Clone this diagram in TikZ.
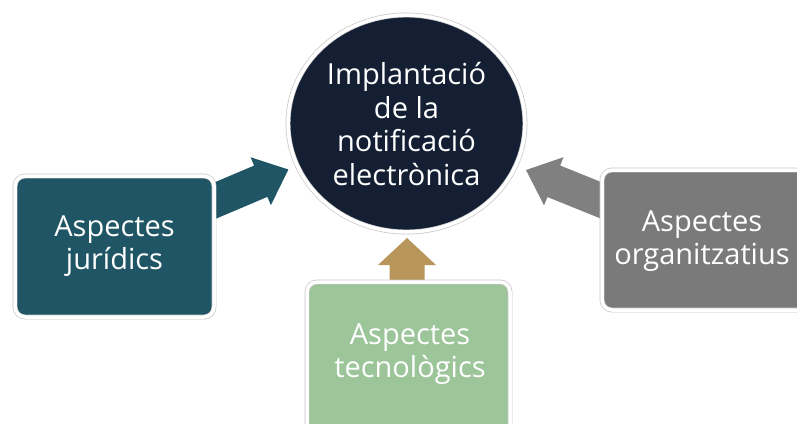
\documentclass[tikz,border=0pt]{standalone}
\usepackage{fontspec}
\setmainfont{Open Sans}
\usetikzlibrary{shadows,shapes.geometric}
\definecolor{navy}{HTML}{141F33}
\definecolor{teal}{HTML}{1F5565}
\definecolor{sage}{HTML}{9CC59A}
\definecolor{tan}{HTML}{B8955A}
\definecolor{grayb}{HTML}{7A7A7A}
\definecolor{graya}{HTML}{808080}
\tikzset{
  rim/.style={draw=black!22, line width=0.7pt, double=white, double distance=3.5pt},
  box/.style={rim, rounded corners=10pt,
    drop shadow={shadow xshift=1pt, shadow yshift=-2pt, opacity=0.2, fill=black!60}},
  lbl/.style={text=white, align=center, font=\fontsize{29}{33.5}\selectfont},
}
\begin{document}
\begin{tikzpicture}[x=1pt,y=1pt]
\useasboundingbox (0,0) rectangle (797,-423);
\clip (0,0) rectangle (797,-423);
% arrows
\begin{scope}[shift={(200,-207)}, rotate=23]
  \fill[teal] (0,-17) -- (66,-17) -- (66,-26) -- (96,0) -- (66,26) -- (66,17) -- (0,17) -- cycle;
\end{scope}
\begin{scope}[shift={(615,-206)}, rotate=158]
  \fill[graya] (0,-17) -- (66,-17) -- (66,-26) -- (96,0) -- (66,26) -- (66,17) -- (0,17) -- cycle;
\end{scope}
\begin{scope}[shift={(407,-295)}, rotate=90]
  \fill[tan] (0,-17.5) -- (30,-17.5) -- (30,-29) -- (57,0) -- (30,29) -- (30,17.5) -- (0,17.5) -- cycle;
\end{scope}
% boxes
\draw[box, fill=teal] (15,-176) rectangle (214,-317);
\node[lbl] (jur) at (114.5,-246) {Aspectes\\jurídics};
\draw[box, fill=sage] (307,-282) rectangle (510,-445);
\node[lbl] (tec) at (410,-354) {Aspectes\\tecnològics};
\draw[box, fill=grayb] (602,-170) rectangle (815,-310);
\node[lbl] (org) at (702,-241) {Aspectes\\organitzatius};
% centre
\draw[rim, fill=navy,
  drop shadow={shadow xshift=1pt, shadow yshift=-2pt, opacity=0.2, fill=black!60}]
  (406.5,-123.5) ellipse [x radius=118.5, y radius=108.5];
\node[lbl] (imp) at (406.5,-124) {Implantació\\de la\\notificació\\electrònica};
\end{tikzpicture}
\end{document}
